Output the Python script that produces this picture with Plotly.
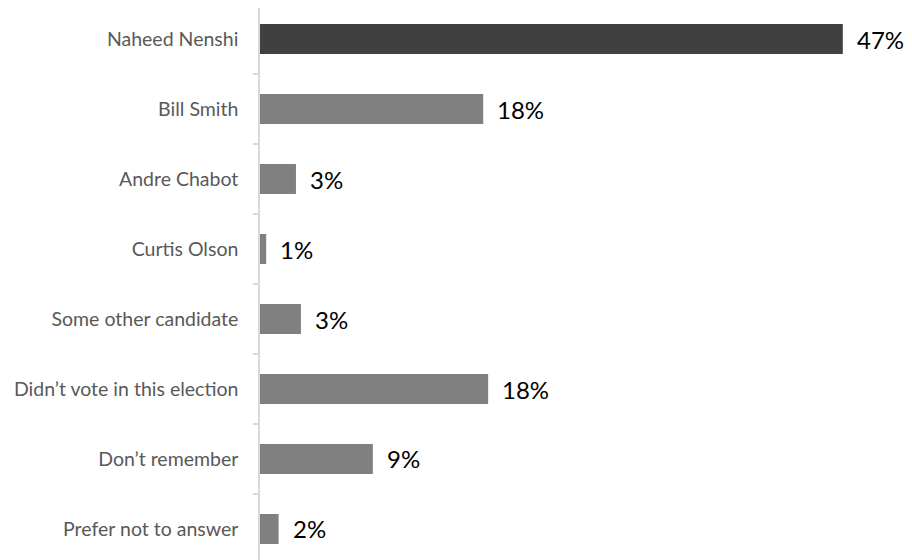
import plotly.graph_objects as go

categories = ["Naheed Nenshi", "Bill Smith", "Andre Chabot", "Curtis Olson",
              "Some other candidate", "Didn\u2019t vote in this election",
              "Don\u2019t remember", "Prefer not to answer"]
values = [47, 18, 2.9, 0.5, 3.3, 18.4, 9.1, 1.5]
value_labels = ["47%", "18%", "3%", "1%", "3%", "18%", "9%", "2%"]
bar_colors = ["#404040"] + ["#808080"] * 7

fig = go.Figure()
fig.add_trace(go.Bar(
    x=values, y=categories, orientation="h",
    marker=dict(color=bar_colors, line=dict(width=0)),
    width=30 / 70, hoverinfo="skip",
))

for c, v, t in zip(categories, values, value_labels):
    fig.add_annotation(x=v, y=c, text=t, xref="x", yref="y",
                       xanchor="left", yanchor="middle", xshift=12,
                       showarrow=False,
                       font=dict(family="Lato", size=24, color="#000000"))

fig.update_layout(
    width=904, height=552,
    margin=dict(l=252, r=0, t=0, b=0),
    paper_bgcolor="white", plot_bgcolor="white",
    showlegend=False,
    xaxis=dict(range=[0, 52.58], visible=False, fixedrange=True),
    yaxis=dict(
        type="category", range=[7.443, -0.443],
        showline=True, linecolor="#d9d9d9", linewidth=1.5,
        ticks="outside", tickson="boundaries", ticklen=5,
        tickcolor="#d9d9d9", tickwidth=1.5,
        ticklabelstandoff=16,
        showgrid=False, zeroline=False,
        tickfont=dict(family="Lato", size=19.5, color="#595959"),
    ),
)

fig.write_html("out.html")
